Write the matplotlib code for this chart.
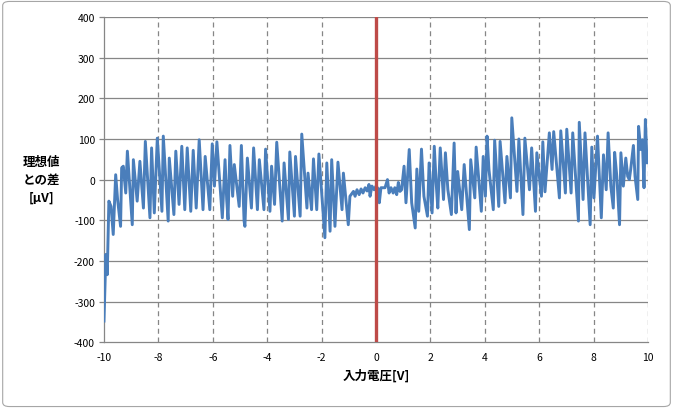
import numpy as np
import matplotlib.pyplot as plt
from matplotlib.patches import FancyBboxPatch

plt.rcParams['font.family'] = ['Noto Sans CJK JP', 'DejaVu Sans']
plt.rcParams['axes.unicode_minus'] = False

# input voltage [V]
volts = [
    -10.0, -9.93, -9.88, -9.82, -9.74, -9.66, -9.57, -9.50, -9.39, -9.35,
    -9.29, -9.20, -9.14, -8.96, -8.92, -8.78, -8.68, -8.55, -8.48, -8.31,
    -8.25, -8.15, -8.04, -7.87, -7.82, -7.64, -7.60, -7.43, -7.36, -7.24,
    -7.14, -7.03, -6.94, -6.81, -6.72, -6.61, -6.50, -6.36, -6.28, -6.11,
    -6.02, -5.94, -5.85, -5.65, -5.55, -5.49, -5.44, -5.37, -5.27, -5.21,
    -5.03, -4.95, -4.85, -4.82, -4.73, -4.58, -4.50, -4.36, -4.29, -4.12,
    -4.06, -3.90, -3.84, -3.73, -3.65, -3.45, -3.38, -3.22, -3.17, -3.00,
    -2.96, -2.79, -2.73, -2.54, -2.50, -2.37, -2.30, -2.18, -2.10, -1.88,
    -1.81, -1.69, -1.63, -1.51, -1.40, -1.25, -1.20, -1.02, -0.96, -0.83,
    -0.77, -0.70, -0.62, -0.55, -0.48, -0.40, -0.33, -0.26, -0.22, -0.15,
    -0.07, 0.00, 0.07, 0.12, 0.18, 0.27, 0.33, 0.42, 0.48, 0.55,
    0.63, 0.69, 0.76, 0.82, 0.88, 0.94, 1.03, 1.10, 1.22, 1.31,
    1.44, 1.50, 1.57, 1.67, 1.76, 1.89, 1.95, 2.06, 2.14, 2.21,
    2.27, 2.36, 2.48, 2.55, 2.64, 2.77, 2.87, 2.94, 3.00, 3.15,
    3.24, 3.43, 3.48, 3.63, 3.68, 3.87, 3.94, 4.02, 4.08, 4.15,
    4.31, 4.36, 4.51, 4.56, 4.74, 4.81, 4.94, 4.99, 5.18, 5.25,
    5.40, 5.47, 5.64, 5.72, 5.86, 5.91, 6.08, 6.13, 6.21, 6.37,
    6.47, 6.53, 6.74, 6.79, 6.96, 7.01, 7.17, 7.23, 7.44, 7.47,
    7.61, 7.68, 7.87, 7.93, 8.01, 8.14, 8.28, 8.36, 8.46, 8.53,
    8.63, 8.72, 8.77, 8.85, 8.95, 9.00, 9.09, 9.18, 9.25, 9.31,
    9.36, 9.46, 9.52, 9.62, 9.65, 9.73, 9.79, 9.85, 9.90, 9.96,
    10.0,
]

# difference from ideal [uV]
diff_uv = [
    -348, -184, -234, -53, -66, -135, 12, -49, -115, 29,
    33, -33, 70, -111, 49, -53, 45, -70, 94, -94,
    78, -82, 102, -78, 107, -102, 53, -86, 70, -61,
    82, -74, 78, -78, 72, -70, 98, -74, 57, -74,
    88, -16, 93, -94, 49, -49, -98, 84, -41, 37,
    -66, 84, -102, -115, 53, -70, 78, -74, 49, -74,
    75, -78, 33, -61, 92, -102, 41, -98, 68, -90,
    57, -90, 112, -70, 16, -74, 51, -74, 63, -143,
    41, -127, 49, -115, 43, -74, 16, -111, -41, -29,
    -41, -25, -37, -23, -33, -20, -28, -12, -41, -16,
    -25, -16, -22, -57, -20, -20, -20, 0, -33, -20,
    -33, -20, -37, -7, -29, -25, 33, -57, 74, -57,
    -119, 26, -78, 75, -41, -90, 41, -82, 82, -8,
    -70, 78, -49, 66, -25, -86, 90, -82, 20, -74,
    37, -123, 49, -45, 80, -78, 57, -41, 107, 25,
    -74, 97, -66, 94, -57, 57, -45, 152, -29, 100,
    -86, 102, -25, 78, -78, 66, -41, 93, -30, 115,
    25, 118, -45, 120, -33, 124, -33, 115, -102, 141,
    -49, 115, -111, 80, -45, 107, -94, 61, -25, 115,
    -16, -70, 67, 8, -111, 66, -16, 53, 8, 0,
    25, 84, 8, -49, 131, 74, 98, -20, 148, 41,
    60,
]

blue = '#4a7ebb'
red = '#be4b48'
grid = '#868686'

fig = plt.figure(figsize=(6.73, 4.10), dpi=100)
fig.patches.append(FancyBboxPatch((0.004, 0.006), 0.992, 0.988,
                                  boxstyle='round,pad=0,rounding_size=0.01',
                                  transform=fig.transFigure, fill=False,
                                  edgecolor='#a6a6a6', linewidth=0.8))

ax = fig.add_axes([0.1545, 0.163, 0.8085, 0.793])

ax.set_xlim(-10, 10)
ax.set_ylim(-400, 400)
ax.set_xticks(np.arange(-10, 11, 2))
ax.set_yticks(np.arange(-400, 401, 100))

for y in np.arange(-300, 401, 100):
    ax.axhline(y, color=grid, lw=0.9, zorder=1)
for x in np.arange(-8, 11, 2):
    ax.axvline(x, color=grid, lw=0.9, ls=(0, (4, 3)), zorder=1)

ax.plot(volts, diff_uv, color=blue, lw=2.1, zorder=3)
ax.axvline(0, color=red, lw=2.4, zorder=4)

for s in ax.spines.values():
    s.set_color(grid)
    s.set_linewidth(0.9)
ax.spines['top'].set_visible(False)
ax.spines['right'].set_visible(False)

ax.tick_params(axis='both', labelsize=7.5, colors='black', width=0.9,
               direction='out', color=grid)
ax.tick_params(axis='y', length=3.5, pad=3)
ax.tick_params(axis='x', length=0, pad=7)

ax.set_xlabel('入力電圧[V]', fontsize=9, fontweight='bold', labelpad=5)
fig.text(0.062, 0.56, '理想値\nとの差\n[μV]', fontsize=9, fontweight='bold',
         ha='center', va='center', linespacing=1.5)

fig.savefig('out.png', dpi=100)
